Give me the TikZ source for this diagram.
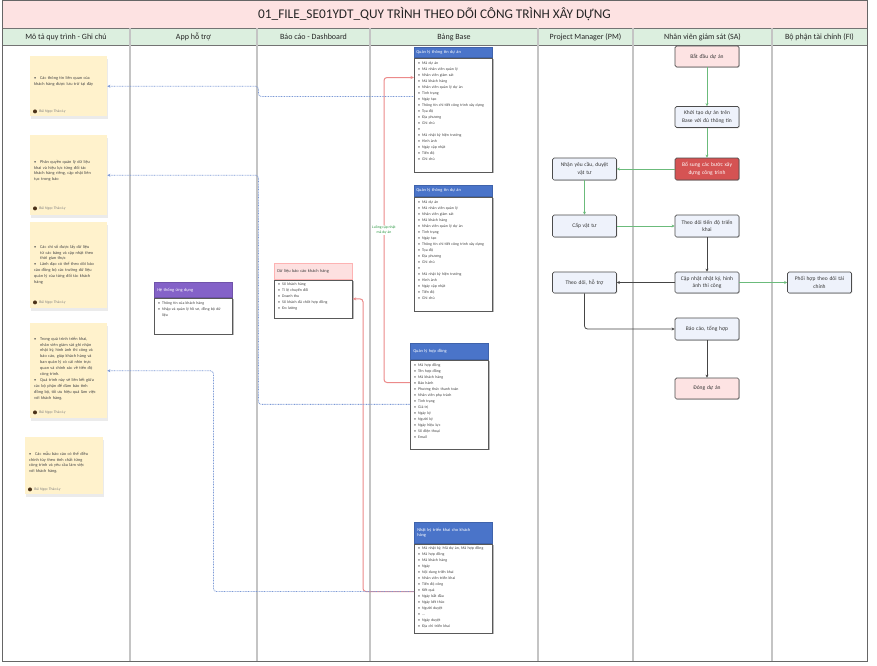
\documentclass[tikz,border=0pt]{standalone}
\usepackage{fontspec}
\setmainfont{Carlito}
\usetikzlibrary{arrows.meta,shadows,calc}
\definecolor{titlepink}{HTML}{FDE2E2}
\definecolor{hdrgreen}{HTML}{DCEFDF}
\definecolor{lanegray}{HTML}{C4C4C4}
\definecolor{sticky}{HTML}{FFF2CC}
\definecolor{flowblue}{HTML}{EEF2FB}
\definecolor{startpink}{HTML}{FDE3E3}
\definecolor{redbox}{HTML}{D55353}
\definecolor{tblblue}{HTML}{4A74C9}
\definecolor{apppurple}{HTML}{8462C8}
\definecolor{dashpink}{HTML}{FDE0E0}
\definecolor{lnred}{HTML}{EC8A8A}
\definecolor{lnblue}{HTML}{7C99D6}
\definecolor{lngreen}{HTML}{6BBB7B}
\definecolor{lndark}{HTML}{454545}
\definecolor{txtgreen}{HTML}{2E9A45}
\newcommand\bl{\textbullet\hspace{2pt}}
\newcommand\bpt[1]{\par\noindent\hangindent=6pt\hangafter=1\makebox[6pt][l]{\textbullet}#1}
\tikzset{
  lanehdr/.style={font=\fontsize{8}{9}\selectfont, text=black!85},
  flow/.style={draw=black!70, line width=0.7pt, fill=flowblue, rounded corners=1.5pt,
    minimum width=64pt, minimum height=21pt, text width=60pt, align=center, inner sep=1pt,
    font=\fontsize{5.5}{7.6}\selectfont, text=black!80,
    drop shadow={shadow xshift=0.8pt, shadow yshift=-0.8pt, opacity=0.3}},
  tblhead/.style={fill=tblblue, draw=tblblue!85!black, line width=0.5pt, text=white,
    font=\fontsize{4.4}{5.6}\selectfont, minimum width=78pt, text width=72pt, align=left, inner sep=3pt},
  tblbody/.style={draw=black!65, line width=0.7pt, fill=white, minimum width=78pt, inner sep=0pt,
    drop shadow={shadow xshift=1.2pt, shadow yshift=-1.2pt, fill=black!45, opacity=0.6}},
  tbltext/.style={font=\fontsize{3.9}{6}\selectfont, text=black!75, align=left, inner sep=0pt, text width=70pt},
  stickynote/.style={fill=sticky, draw=none, inner sep=0pt,
    drop shadow={shadow xshift=0.5pt, shadow yshift=-3pt, fill=black!30, opacity=0.25}},
  notetext/.style={font=\fontsize{4.3}{5.9}\selectfont, text=black!72, align=left, inner sep=0pt, text width=62pt},
  author/.style={font=\fontsize{3.8}{4.5}\selectfont, text=black!50, inner sep=0pt, anchor=west},
  avatar/.style={circle, fill=black!60!brown, inner sep=0pt, minimum size=4pt},
  redln/.style={draw=lnred, line width=1pt, rounded corners=3pt, -{Stealth[length=3.5pt,width=3pt]}},
  bluedot/.style={draw=lnblue, line width=0.8pt, dash pattern=on 0.8pt off 0.8pt, rounded corners=3pt,
    {Stealth[length=3pt,width=3pt]}-},
  gline/.style={draw=lngreen, line width=0.8pt, -{Stealth[length=3pt,width=3pt]}},
  dline/.style={draw=lndark, line width=0.8pt, rounded corners=3pt, -{Stealth[length=3pt,width=3pt]}}
}
\begin{document}
\begin{tikzpicture}[x=1pt,y=-1pt]
\useasboundingbox[fill=white] (0,0) rectangle (877,665);
% frame, title, header
\fill[titlepink] (2,0) rectangle (867,28);
\fill[hdrgreen] (2,28) rectangle (867,45);
\draw[black!55, line width=0.6pt] (2,28) -- (867,28) (2,45) -- (867,45);
\foreach \xx in {130,257,370,538,633,772}{
  \draw[lanegray, line width=1.3pt] (\xx,28) -- (\xx,661);
}
\draw[black!60, line width=0.9pt] (2,0) rectangle (867,661);
\node[font=\fontsize{13.3}{15}\selectfont, text=black!85] (title) at (434.5,14.5) {01\_FILE\_SE01YDT\_QUY TRÌNH THEO DÕI CÔNG TRÌNH XÂY DỰNG};
\node[lanehdr] (h1) at (66,37) {Mô tả quy trình - Ghi chú};
\node[lanehdr] (h2) at (193.5,37) {App hỗ trợ};
\node[lanehdr] (h3) at (313.5,37) {Báo cáo - Dashboard};
\node[lanehdr] (h4) at (454,37) {Bảng Base};
\node[lanehdr] (h5) at (585.5,37) {Project Manager (PM)};
\node[lanehdr] (h6) at (702.5,37) {Nhân viên giám sát (SA)};
\node[lanehdr] (h7) at (819.5,37) {Bộ phận tài chính (FI)};

% sticky notes
\node[stickynote, minimum width=77pt, minimum height=60pt, anchor=north west] (n1) at (30,56) {};
\node[notetext, anchor=north west] (n1t) at ([xshift=4pt,yshift=-17pt]n1.north west)
  {\bpt{Các thông tin liên quan của khách hàng được lưu trữ tại đây}};
\node[avatar] (n1a) at ([xshift=5pt,yshift=5pt]n1.south west) {};
\node[author] (n1n) at ([xshift=2pt]n1a.east) {Bùi Ngọc Thảo Ly};

\node[stickynote, minimum width=77pt, minimum height=80pt, anchor=north west] (n2) at (30,135) {};
\node[notetext, anchor=north west] (n2t) at ([xshift=4pt,yshift=-22pt]n2.north west)
  {\bpt{Phân quyền quản lý dữ liệu khai và hiệu lực từng đối tác khách hàng riêng, cập nhật liên tục trong báo}};
\node[avatar] (n2a) at ([xshift=5pt,yshift=7pt]n2.south west) {};
\node[author] (n2n) at ([xshift=2pt]n2a.east) {Bùi Ngọc Thảo Ly};

\node[stickynote, minimum width=77pt, minimum height=86pt, anchor=north west] (n3) at (30,222) {};
\node[notetext, anchor=north west] (n3t) at ([xshift=4pt,yshift=-20pt]n3.north west)
  {\bpt{Các chỉ số được lấy dữ liệu từ các bảng và cập nhật theo thời gian thực}
   \bpt{Lãnh đạo có thể theo dõi báo cáo đồng bộ các trường dữ liệu quản lý của từng đối tác khách hàng}};
\node[avatar] (n3a) at ([xshift=5pt,yshift=6pt]n3.south west) {};
\node[author] (n3n) at ([xshift=2pt]n3a.east) {Bùi Ngọc Thảo Ly};

\node[stickynote, minimum width=77pt, minimum height=95pt, anchor=north west] (n4) at (30,323) {};
\node[notetext, anchor=north west] (n4t) at ([xshift=4pt,yshift=-11pt]n4.north west)
  {\bpt{Trong quá trình triển khai, nhân viên giám sát ghi nhận nhật ký, hình ảnh thi công và báo cáo, giúp khách hàng và ban quản lý có cái nhìn trực quan và chính xác về tiến độ công trình.}
   \bpt{Quá trình này sẽ liên kết giữa các bộ phận để đảm bảo tính đồng bộ, tối ưu hiệu quả làm việc với khách hàng.}};
\node[avatar] (n4a) at ([xshift=5pt,yshift=6pt]n4.south west) {};
\node[author] (n4n) at ([xshift=2pt]n4a.east) {Bùi Ngọc Thảo Ly};

\node[stickynote, minimum width=78pt, minimum height=57pt, anchor=north west] (n5) at (25,437) {};
\node[notetext, anchor=north west] (n5t) at ([xshift=4pt,yshift=-12pt]n5.north west)
  {\bpt{Các mẫu báo cáo có thể điều chỉnh tùy theo tính chất từng công trình và yêu cầu làm việc với khách hàng.}};
\node[avatar] (n5a) at ([xshift=5pt,yshift=5pt]n5.south west) {};
\node[author] (n5n) at ([xshift=2pt]n5a.east) {Bùi Ngọc Thảo Ly};

% app box
\node[tblhead, fill=apppurple, draw=apppurple!85!black, minimum height=15pt, anchor=north west] (ah) at (154,282) {Hệ thống ứng dụng};
\node[tblbody, minimum height=36pt, anchor=north west] (ab) at (ah.south west) {};
\node[tbltext, anchor=north west] (abt) at ([xshift=4pt,yshift=-4pt]ab.north west)
  {\bl Thông tin của khách hàng\\\bl Nhập và quản lý hồ sơ, đồng bộ dữ\\\hspace*{4pt}liệu};

% dashboard box
\node[tblhead, fill=dashpink, draw=dashpink!80!red, text=black!75, minimum height=16pt, anchor=north west] (dh) at (274,263) {Dữ liệu báo cáo khách hàng};
\node[tblbody, minimum height=38pt, anchor=north west] (db) at (dh.south west) {};
\node[tbltext, anchor=north west] (dbt) at ([xshift=4pt,yshift=-3pt]db.north west)
  {\bl Số khách hàng\\\bl Tỉ lệ chuyển đổi\\\bl Doanh thu\\\bl Số khách đã chốt hợp đồng\\\bl Đo lường};

% base tables
\node[tblhead, minimum height=10pt, inner sep=2pt, text width=74pt, anchor=north west] (t1h) at (414,47) {Quản lý thông tin dự án};
\node[tblbody, minimum height=114pt, anchor=north west] (t1b) at (t1h.south west) {};
\node[tbltext, anchor=north west] (t1t) at ([xshift=4pt,yshift=-4pt]t1b.north west)
  {\bl Mã dự án\\\bl Mã nhân viên quản lý\\\bl Nhân viên giám sát\\\bl Mã khách hàng\\\bl Nhân viên quản lý dự án\\\bl Tình trạng\\\bl Ngày tạo\\\bl Thông tin chi tiết công trình xây dựng\\\bl Tọa độ\\\bl Địa phương\\\bl Ghi chú\\\bl\\\bl Mã nhật ký hiện trường\\\bl Hình ảnh\\\bl Ngày cập nhật\\\bl Tiến độ\\\bl Ghi chú};

\node[tblhead, minimum height=11pt, inner sep=2pt, text width=74pt, anchor=north west] (t2h) at (414,185) {Quản lý thông tin dự án};
\node[tblbody, minimum height=114pt, anchor=north west] (t2b) at (t2h.south west) {};
\node[tbltext, anchor=north west] (t2t) at ([xshift=4pt,yshift=-4pt]t2b.north west)
  {\bl Mã dự án\\\bl Mã nhân viên quản lý\\\bl Nhân viên giám sát\\\bl Mã khách hàng\\\bl Nhân viên quản lý dự án\\\bl Tình trạng\\\bl Ngày tạo\\\bl Thông tin chi tiết công trình xây dựng\\\bl Tọa độ\\\bl Địa phương\\\bl Ghi chú\\\bl\\\bl Mã nhật ký hiện trường\\\bl Hình ảnh\\\bl Ngày cập nhật\\\bl Tiến độ\\\bl Ghi chú};

\node[tblhead, minimum height=16pt, anchor=north west] (t3h) at (410,343) {Quản lý hợp đồng};
\node[tblbody, minimum height=89pt, anchor=north west] (t3b) at (t3h.south west) {};
\node[tbltext, anchor=north west] (t3t) at ([xshift=4pt,yshift=-4pt]t3b.north west)
  {\bl Mã hợp đồng\\\bl Tên hợp đồng\\\bl Mã khách hàng\\\bl Bảo hành\\\bl Phương thức thanh toán\\\bl Nhân viên phụ trách\\\bl Tình trạng\\\bl Giá trị\\\bl Ngày ký\\\bl Người ký\\\bl Ngày hiệu lực\\\bl Số điện thoại\\\bl Email};

\node[tblhead, minimum height=21pt, anchor=north west] (t4h) at (414,522) {Nhật ký triển khai cho khách\\hàng};
\node[tblbody, minimum height=89pt, anchor=north west] (t4b) at (t4h.south west) {};
\node[tbltext, anchor=north west] (t4t) at ([xshift=4pt,yshift=-3pt]t4b.north west)
  {\bl Mã nhật ký, Mã dự án, Mã hợp đồng\\\bl Mã hợp đồng\\\bl Mã khách hàng\\\bl Ngày\\\bl Nội dung triển khai\\\bl Nhân viên triển khai\\\bl Tiến độ công\\\bl Kết quả\\\bl Ngày bắt đầu\\\bl Ngày kết thúc\\\bl Người duyệt\\\bl ...\\\bl Ngày duyệt\\\bl Địa chỉ triển khai};

% flowchart
\node[flow, fill=startpink] (s) at (707,56.5) {Bắt đầu dự án};
\node[flow] (f1) at (707,117) {Khởi tạo dự án trên\\Base với đủ thông tin};
\node[flow, fill=redbox, text=white, minimum height=22pt] (f2) at (707,169) {Bổ sung các bước xây\\dựng công trình};
\node[flow, minimum height=22pt] (p1) at (584.5,169) {Nhận yêu cầu, duyệt\\vật tư};
\node[flow, minimum height=22pt] (p2) at (584.5,226) {Cấp vật tư};
\node[flow, minimum height=22pt] (f3) at (707,226) {Theo dõi tiến độ triển\\khai};
\node[flow] (p3) at (584.5,282.5) {Theo dõi, hỗ trợ};
\node[flow] (f4) at (707,282.5) {Cập nhật nhật ký, hình\\ảnh thi công};
\node[flow] (fi) at (819.5,282.5) {Phối hợp theo dõi tài\\chính};
\node[flow, minimum height=22pt] (f5) at (707,329) {Báo cáo, tổng hợp};
\node[flow, fill=startpink] (e) at (707,388.5) {Đóng dự án};

\draw[gline] (s) -- (f1);
\draw[gline] (f1) -- (f2);
\draw[gline] (f2) -- (p1);
\draw[gline] (p1) -- (p2);
\draw[gline] (p2) -- (f3);
\draw[dline] (f3) -- (f4);
\draw[dline] (f4) -- (p3);
\draw[gline] (f4) -- (fi);
\draw[dline] (p3.south) |- (f5.west);
\draw[dline] (f5) -- (e);

% red links
\draw[redln] ([yshift=-23pt]t3b.north west) -- ++(-26,0) |- node[pos=0.25, fill=white, inner sep=0.6pt, align=center, font=\fontsize{3.8}{4.8}\selectfont, text=txtgreen] (lbl) {Luồng cập nhật\\mã dự án} ([yshift=-20pt]t1b.north west);
\draw[redln] ([yshift=-48pt]t4b.north west) -- ++(-51,0) |- (db.east);

% blue dotted links
\draw[bluedot] (n1.east) -- ++(151,0) |- ([yshift=-39pt]t1b.north west);
\draw[bluedot] (n2.east) -- ++(151,0) |- (t3b.west);
\draw[bluedot] (n4.east) -- ++(106,0) |- ([yshift=-48pt]t4b.north west);
\end{tikzpicture}
\end{document}
